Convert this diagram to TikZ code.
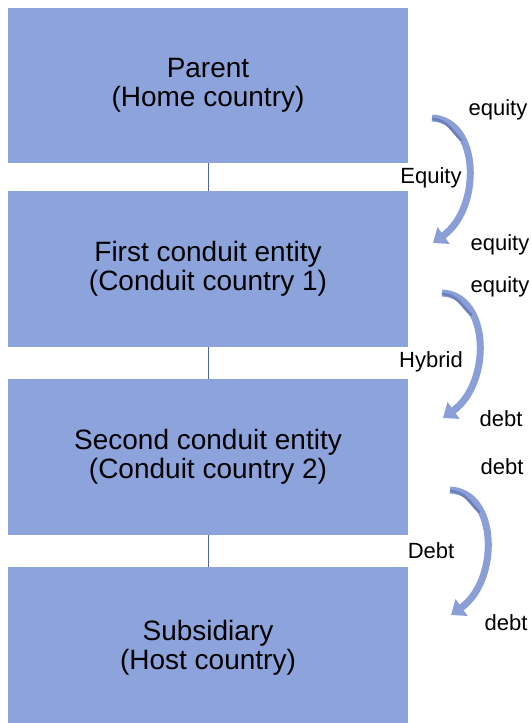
\documentclass[tikz,border=0pt]{standalone}
\usepackage{fontspec}
\setmainfont{Liberation Sans}
\usetikzlibrary{arrows.meta,calc}
\definecolor{boxblue}{HTML}{8CA3DB}
\definecolor{arrowblue}{HTML}{8A9FD8}
\definecolor{darkshade}{HTML}{6C7FB8}
\definecolor{linkblue}{HTML}{4F65A3}
\tikzset{
  entity/.style={fill=boxblue, draw=none, minimum width=400pt, align=center,
    font=\fontsize{28}{29.5}\selectfont, inner sep=0pt},
  sidelabel/.style={font=\fontsize{22}{24}\selectfont, inner sep=0pt},
  link/.style={draw=linkblue, line width=1pt},
  flow/.style={draw=arrowblue, line width=7pt,
    -{Triangle[width=20pt,length=13pt]}},
  shade/.style={draw=darkshade, line width=2.6pt, line cap=round}
}
\begin{document}
\begin{tikzpicture}[x=1pt,y=-1pt]
\useasboundingbox (0,0) rectangle (531,723);
\clip (0,0) rectangle (531,723);
\node[entity, minimum height=155pt] (p) at (208,85.5) {Parent\\(Home country)};
\node[entity, minimum height=156pt] (f) at (208,269) {First conduit entity\\(Conduit country 1)};
\node[entity, minimum height=156pt] (s) at (208,457) {Second conduit entity\\(Conduit country 2)};
\node[entity, minimum height=162pt] (h) at (208,648) {Subsidiary\\(Host country)};
\draw[link] (p.south) -- (f.north);
\draw[link] (f.south) -- (s.north);
\draw[link] (s.south) -- (h.north);

\node[sidelabel] (l1a) at (498,110) {equity};
\node[sidelabel] (l1m) at (431,178) {Equity};
\node[sidelabel] (l1b) at (500,245) {equity};
\node[sidelabel] (l2a) at (500,287) {equity};
\node[sidelabel] (l2m) at (431,362) {Hybrid};
\node[sidelabel] (l2b) at (501,419) {debt};
\node[sidelabel] (l3a) at (502,467) {debt};
\node[sidelabel] (l3m) at (431,551) {Debt};
\node[sidelabel] (l3b) at (506,623) {debt};

\coordinate (a1s) at (432,118);
\coordinate (a1e) at (433,243);
\coordinate (a2s) at (442,293);
\coordinate (a2e) at (443,418);
\coordinate (a3s) at (450,490);
\coordinate (a3e) at (451,615);
\foreach \a in {a1,a2,a3}{
  \draw[flow] (\a s) .. controls +(48,2) and +(49,-35) .. (\a e);
  \draw[shade] ($(\a s)+(1,1)$) .. controls +(14,1) and +(-9,-9) .. ($(\a s)+(29,22)$);
}
\end{tikzpicture}
\end{document}
